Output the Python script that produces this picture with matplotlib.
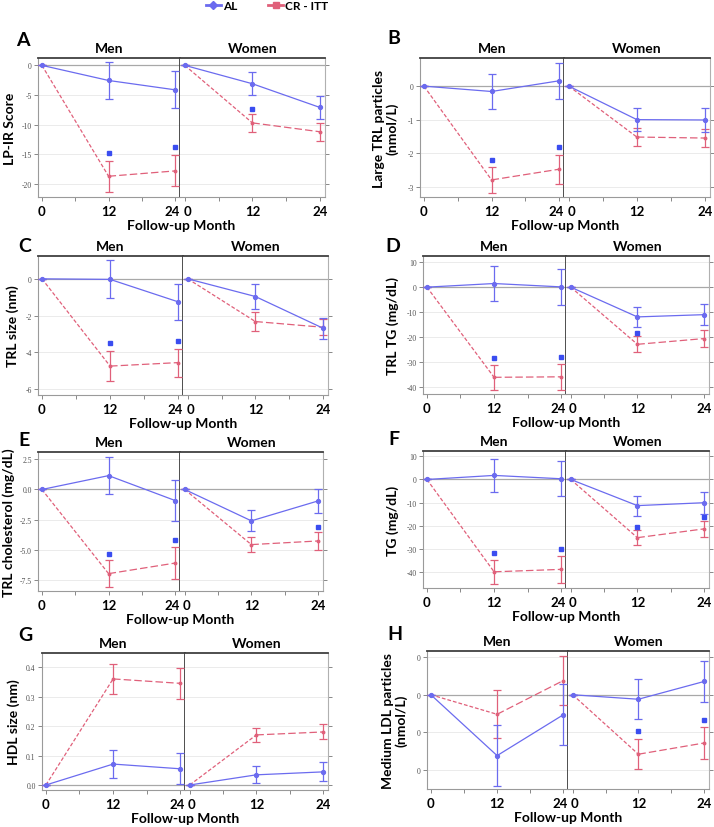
import matplotlib
matplotlib.use("Agg")
import matplotlib.pyplot as plt
from matplotlib.lines import Line2D
from matplotlib.transforms import ScaledTranslation

plt.rcParams['axes.unicode_minus'] = False
FONT = ['Lato', 'DejaVu Sans']
plt.rcParams['font.family'] = FONT

months = [0, 12, 24]
groups = ["Men", "Women"]
series_names = ["AL", "CR - ITT"]

# ---------------- data (mean change, half error bar) ----------------
A_men_AL = [0, -2.55, -4.13];   A_men_AL_se = [0, 3.15, 3.12]
A_men_CR = [0, -18.7, -17.8];   A_men_CR_se = [0, 2.6, 2.6]
A_wom_AL = [0, -3.1, -7.1];     A_wom_AL_se = [0, 1.95, 1.97]
A_wom_CR = [0, -9.7, -11.2];    A_wom_CR_se = [0, 1.47, 1.52]
A_men_star = [(12, -14.8), (24, -13.8)]
A_wom_star = [(12, -7.4)]

B_men_AL = [0, -0.16, 0.16];    B_men_AL_se = [0, 0.52, 0.54]
B_men_CR = [0, -2.8, -2.48];    B_men_CR_se = [0, 0.40, 0.43]
B_wom_AL = [0, -1.0, -1.01];    B_wom_AL_se = [0, 0.34, 0.35]
B_wom_CR = [0, -1.52, -1.55];   B_wom_CR_se = [0, 0.26, 0.27]
B_men_star = [(12, -2.2), (24, -1.83)]
B_wom_star = []

C_men_AL = [0, -0.03, -1.25];   C_men_AL_se = [0, 1.03, 0.96]
C_men_CR = [0, -4.74, -4.55];   C_men_CR_se = [0, 0.83, 0.76]
C_wom_AL = [0, -0.96, -2.68];   C_wom_AL_se = [0, 0.67, 0.57]
C_wom_CR = [0, -2.32, -2.63];   C_wom_CR_se = [0, 0.50, 0.43]
C_men_star = [(12, -3.51), (24, -3.4)]
C_wom_star = []

D_men_AL = [0, 1.45, 0.1];      D_men_AL_se = [0, 6.95, 7.1]
D_men_CR = [0, -36.2, -36.0];   D_men_CR_se = [0, 5.1, 5.3]
D_wom_AL = [0, -11.95, -11.05]; D_wom_AL_se = [0, 4.15, 4.35]
D_wom_CR = [0, -22.95, -20.65]; D_wom_CR_se = [0, 3.15, 3.25]
D_men_star = [(12, -28.4), (24, -28.0)]
D_wom_star = [(12, -18.4)]

E_men_AL = [0, 1.15, -0.92];    E_men_AL_se = [0, 1.54, 1.72]
E_men_CR = [0, -6.98, -6.1];    E_men_CR_se = [0, 1.10, 1.29]
E_wom_AL = [0, -2.6, -0.95];    E_wom_AL_se = [0, 0.87, 1.02]
E_wom_CR = [0, -4.57, -4.27];   E_wom_CR_se = [0, 0.65, 0.77]
E_men_star = [(12, -5.31), (24, -4.17)]
E_wom_star = [(24, -3.11)]

F_men_AL = [0, 1.75, 0.3];      F_men_AL_se = [0, 7.25, 7.6]
F_men_CR = [0, -39.9, -38.85];  F_men_CR_se = [0, 5.3, 5.75]
F_wom_AL = [0, -11.3, -10.05];  F_wom_AL_se = [0, 4.3, 4.75]
F_wom_CR = [0, -25.15, -21.35]; F_wom_CR_se = [0, 3.15, 3.45]
F_men_star = [(12, -31.6), (24, -30.1)]
F_wom_star = [(12, -20.4), (24, -16.1)]

G_men_AL = [0, 0.071, 0.055];   G_men_AL_se = [0, 0.048, 0.053]
G_men_CR = [0, 0.36, 0.345];    G_men_CR_se = [0, 0.050, 0.052]
G_wom_AL = [0, 0.0345, 0.0445]; G_wom_AL_se = [0, 0.0285, 0.0325]
G_wom_CR = [0, 0.17, 0.18];     G_wom_CR_se = [0, 0.023, 0.0255]
G_men_star = []
G_wom_star = []

H_men_AL = [0, -32.55, -10.7];  H_men_AL_se = [0, 16.25, 16.4]
H_men_CR = [0, -10.45, 7.6];    H_men_CR_se = [0, 12.75, 13.3]
H_wom_AL = [0, -2.4, 7.1];      H_wom_AL_se = [0, 10.6, 10.8]
H_wom_CR = [0, -31.8, -25.8];   H_wom_CR_se = [0, 8.0, 8.3]
H_men_star = []
H_wom_star = [(12, -19.6), (24, -13.4)]

# axis texts
letters = ["A", "B", "C", "D", "E", "F", "G", "H"]
ylabel_texts = ["LP-IR Score", "Large TRL particles\n(nmol/L)", "TRL size (nm)", "TRL TG (mg/dL)",
                "TRL cholesterol (mg/dL)", "TG (mg/dL)", "HDL size (nm)", "Medium LDL particles\n(nmol/L)"]
yticks_A = [0, -5, -10, -15, -20];      yticklabels_A = ["0", "-5", "-10", "-15", "-20"]
yticks_B = [0, -1, -2, -3];             yticklabels_B = ["0", "-1", "-2", "-3"]
yticks_C = [0, -2, -4, -6];             yticklabels_C = ["0", "-2", "-4", "-6"]
yticks_D = [10, 0, -10, -20, -30, -40]; yticklabels_D = ["10", "0", "-10", "-20", "-30", "-40"]
yticks_E = [2.5, 0, -2.5, -5, -7.5];    yticklabels_E = ["2.5", "0.0", "-2.5", "-5.0", "-7.5"]
yticks_F = [10, 0, -10, -20, -30, -40]; yticklabels_F = ["10", "0", "-10", "-20", "-30", "-40"]
yticks_G = [0, 0.1, 0.2, 0.3, 0.4];     yticklabels_G = ["0.0", "0.1", "0.2", "0.3", "0.4"]
yticks_H = [20, 0, -20, -40];           yticklabels_H = ["0", "0", "0", "0"]
xtick_labels = ["0", "12", "24"]
xlabel = "Follow-up Month"

# ---------------- layout (pixels) ----------------
W, H = 714, 828
ylims = {"A": (-22.2, 1.24), "B": (-3.31, 0.84), "C": (-6.31, 1.24), "D": (-42.9, 12.5),
         "E": (-8.42, 3.11), "F": (-46.9, 12.3), "G": (-0.017, 0.448), "H": (-50.4, 23.4)}
# men_left, divider, women_right, top, bottom
boxes = {"A": (38, 180, 325, 59, 198), "B": (420, 564, 710, 59, 198),
         "C": (38, 183, 328, 257, 396), "D": (423, 566, 709, 257, 395),
         "E": (38, 180, 323, 453, 592), "F": (423, 566, 709, 452, 589),
         "G": (42, 185, 328, 654, 791), "H": (427, 568, 709, 652, 790)}
letter_pos = {"A": (23, 41), "B": (394, 39), "C": (25, 246), "D": (393, 246),
              "E": (24, 441), "F": (394, 440), "G": (25, 636), "H": (395, 635)}
ylabel_x = {"A": 10, "B": 386, "C": 13, "D": 393, "E": 9, "F": 393, "G": 14, "H": 395}

AL_C = '#6b6bef'
CR_C = '#e0607a'
STAR_C = '#3a4df0'

fig = plt.figure(figsize=(W / 100, H / 100), dpi=100)


def fx(x):
    return x / W


def fy(y):
    return 1 - y / H


def draw_group(ax, al, al_se, cr, cr_se, stars):
    ax.errorbar(months, al, yerr=al_se, color=AL_C, lw=0.9, marker='o', ms=2.8,
                mfc=AL_C, mec=AL_C, capsize=2.6, elinewidth=0.9, capthick=0.9, zorder=4)
    # CR: finer dashes on first segment, longer afterwards
    ax.plot(months[:2], cr[:2], color=CR_C, lw=0.9, ls=(0, (3, 1.6)), zorder=3)
    ax.plot(months[1:], cr[1:], color=CR_C, lw=0.9, ls=(0, (6, 2.5)), zorder=3)
    ax.errorbar(months, cr, yerr=cr_se, color=CR_C, lw=0, marker='o', ms=1.8,
                mfc=CR_C, mec=CR_C, capsize=2.6, elinewidth=0.9, capthick=0.9, zorder=3)
    for (sx, sy) in stars:
        ax.plot([sx], [sy], marker='s', ms=2.2, color=STAR_C, mec=STAR_C, lw=0, zorder=5)


panel_data = {
    "A": (A_men_AL, A_men_AL_se, A_men_CR, A_men_CR_se, A_men_star, A_wom_AL, A_wom_AL_se, A_wom_CR, A_wom_CR_se, A_wom_star, yticks_A, yticklabels_A),
    "B": (B_men_AL, B_men_AL_se, B_men_CR, B_men_CR_se, B_men_star, B_wom_AL, B_wom_AL_se, B_wom_CR, B_wom_CR_se, B_wom_star, yticks_B, yticklabels_B),
    "C": (C_men_AL, C_men_AL_se, C_men_CR, C_men_CR_se, C_men_star, C_wom_AL, C_wom_AL_se, C_wom_CR, C_wom_CR_se, C_wom_star, yticks_C, yticklabels_C),
    "D": (D_men_AL, D_men_AL_se, D_men_CR, D_men_CR_se, D_men_star, D_wom_AL, D_wom_AL_se, D_wom_CR, D_wom_CR_se, D_wom_star, yticks_D, yticklabels_D),
    "E": (E_men_AL, E_men_AL_se, E_men_CR, E_men_CR_se, E_men_star, E_wom_AL, E_wom_AL_se, E_wom_CR, E_wom_CR_se, E_wom_star, yticks_E, yticklabels_E),
    "F": (F_men_AL, F_men_AL_se, F_men_CR, F_men_CR_se, F_men_star, F_wom_AL, F_wom_AL_se, F_wom_CR, F_wom_CR_se, F_wom_star, yticks_F, yticklabels_F),
    "G": (G_men_AL, G_men_AL_se, G_men_CR, G_men_CR_se, G_men_star, G_wom_AL, G_wom_AL_se, G_wom_CR, G_wom_CR_se, G_wom_star, yticks_G, yticklabels_G),
    "H": (H_men_AL, H_men_AL_se, H_men_CR, H_men_CR_se, H_men_star, H_wom_AL, H_wom_AL_se, H_wom_CR, H_wom_CR_se, H_wom_star, yticks_H, yticklabels_H),
}

for i, key in enumerate(letters):
    (m_al, m_al_se, m_cr, m_cr_se, m_st, w_al, w_al_se, w_cr, w_cr_se, w_st, yt, ytl) = panel_data[key]
    l, d, r, t, b = boxes[key]
    ax_m = fig.add_axes([fx(l), fy(b), fx(d - l), (b - t) / H])
    ax_w = fig.add_axes([fx(d), fy(b), fx(r - d), (b - t) / H])
    for ax, gname in ((ax_m, "Men"), (ax_w, "Women")):
        ax.set_ylim(*ylims[key])
        ax.set_xlim(-0.7, 24.85)
        ax.set_yticks(yt)
        ax.set_xticks(months)
        ax.set_xticks([6, 18], minor=True)
        ax.set_xticklabels(xtick_labels, fontsize=9.5, fontweight='bold', family=FONT)
        for yv in yt:
            ax.axhline(yv, color='#ebebeb', lw=0.7, zorder=0)
        ax.axhline(0, color='#a8a8a8', lw=0.9, zorder=1)
        ax.tick_params(axis='x', which='both', direction='out', length=3, width=0.7,
                       color='#888888', pad=2.5)
        ax.tick_params(axis='y', which='both', direction='out', length=3, width=0.7,
                       color='#888888')
        ax.set_title(gname, fontsize=10, fontweight='bold', pad=4, family=FONT)
        for s in ax.spines.values():
            s.set_linewidth(0.8)
        ax.spines['top'].set_color('#404040')
        ax.spines['top'].set_linewidth(1.3)
        ax.spines['bottom'].set_color('#9a9a9a')
    ax_m.set_yticklabels(ytl, fontsize=5.5, family=['Liberation Serif'], color='#505050')
    ax_m.tick_params(axis='y', pad=1.5)
    ax_m.spines['left'].set_color('#9a9a9a')
    ax_m.spines['right'].set_color('#404040')
    ax_m.spines['right'].set_linewidth(1.3)
    ax_w.spines['left'].set_visible(False)
    ax_w.spines['right'].set_color('#b0b0b0')
    ax_w.tick_params(axis='y', left=False, right=True, labelleft=False)
    ax_w.set_xlim(-0.85, 24.9)

    # nudge the adjacent "24" | "0" labels apart at the divider
    lab24 = ax_m.get_xticklabels()[-1]
    lab24.set_transform(lab24.get_transform() + ScaledTranslation(-2.2 / 72, 0, fig.dpi_scale_trans))
    lab0 = ax_w.get_xticklabels()[0]
    lab0.set_transform(lab0.get_transform() + ScaledTranslation(1.6 / 72, 0, fig.dpi_scale_trans))

    draw_group(ax_m, m_al, m_al_se, m_cr, m_cr_se, m_st)
    draw_group(ax_w, w_al, w_al_se, w_cr, w_cr_se, w_st)

    # panel letter, y label, x label
    lx, ly = letter_pos[key]
    fig.text(fx(lx), fy(ly), key, fontsize=14, fontweight='bold', ha='center', va='center', family=FONT)
    fig.text(fx(ylabel_x[key]), fy((t + b) / 2), ylabel_texts[i], rotation=90, fontsize=10,
             fontweight='bold', ha='center', va='center', family=FONT, linespacing=1.1)
    fig.text(fx((l + r) / 2), fy(b + 28), xlabel, fontsize=10, fontweight='bold',
             ha='center', va='center', family=FONT)

# legend at top
fig.legend(handles=[Line2D([], [], color=AL_C, marker='D', ms=4, lw=2),
                    Line2D([], [], color=CR_C, marker='s', ms=5, lw=2)],
           labels=series_names, loc='center', bbox_to_anchor=(fx(267), fy(7)), ncol=2,
           frameon=False, handlelength=1.3, handletextpad=0.15, columnspacing=2.6,
           borderpad=0, prop={'family': FONT, 'weight': 'bold', 'size': 8.5})

fig.savefig("out.png", dpi=100)
